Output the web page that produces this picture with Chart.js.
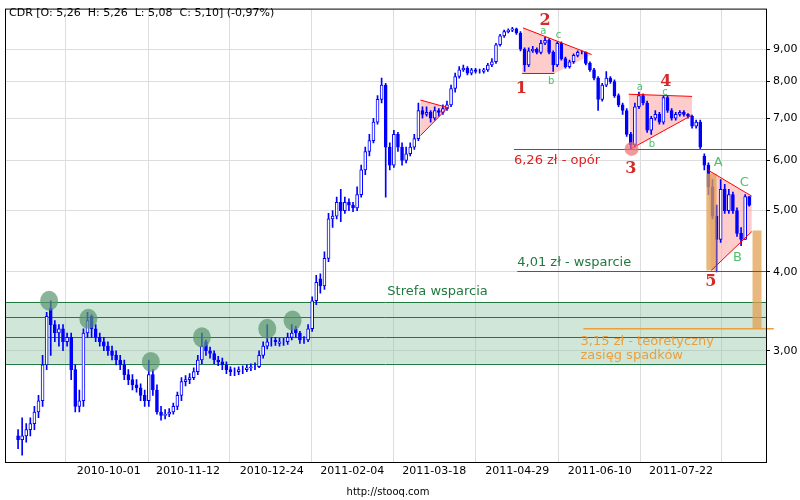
<!DOCTYPE html>
<html><head><meta charset="utf-8">
<script src="https://cdn.jsdelivr.net/npm/chart.js@4"></script>
<style>html,body{margin:0;padding:0;background:#fff}#w{width:800px;height:500px}</style>
</head><body><div id="w"><canvas id="c" width="800" height="500"></canvas></div>
<script>
const title = "CDR [O: 5,26  H: 5,26  L: 5,08  C: 5,10] (-0,97%)";
const opens = [2.2,2.17,2.2,2.25,2.3,2.4,2.5,2.85,3.5,3.3, 3.2,3.25,3.1,3.15,2.8,2.45,2.5,3.2,3.4,3.25, 3.15,3.1,3.05,3.0,2.95,2.9,2.85,2.75,2.7,2.65, 2.62,2.55,2.5,2.75,2.6,2.4,2.37,2.38,2.4,2.45, 2.55,2.68,2.7,2.72,2.78,2.9,3.1,3.0,2.97,2.9, 2.88,2.85,2.8,2.78,2.78,2.8,2.8,2.82,2.83,2.83, 2.95,3.05,3.1,3.12,3.08,3.1,3.1,3.15,3.25,3.2, 3.12,3.12,3.25,3.6,3.9,3.8,4.2,4.85,4.9,5.15, 5.0,5.15,5.1,5.05,5.3,5.8,6.2,6.45,6.9,7.5, 7.9,6.3,5.9,6.6,6.3,6.0,6.15,6.3,6.5,7.2, 7.1,7.15,7.0,7.2,7.15,7.25,7.35,7.8,8.15,8.35, 8.4,8.25,8.35,8.3,8.3,8.35,8.5,8.6,9.15,9.45, 9.6,9.65,9.7,9.55,9.0,8.5,8.95,9.0,8.9,9.2, 9.3,8.9,8.5,9.2,8.7,8.45,8.6,8.8,8.9,8.9, 8.55,8.35,8.1,7.5,7.9,8.1,8.0,7.6,7.35,7.2, 6.6,6.35,7.3,7.6,7.4,6.7,7.0,7.1,6.9,7.55, 7.2,7.0,7.1,7.15,7.1,7.05,6.8,6.9,6.1,5.9, 5.45,4.9,4.5,5.4,5.0,5.3,5.0,4.6,4.5,5.26];
const highs = [2.25,2.35,2.3,2.35,2.45,2.55,2.95,3.45,3.6,3.35, 3.3,3.3,3.2,3.2,2.85,2.6,3.25,3.45,3.42,3.3, 3.2,3.15,3.1,3.05,3.0,2.95,2.9,2.8,2.75,2.7, 2.66,2.6,2.9,2.8,2.65,2.45,2.42,2.43,2.48,2.58, 2.72,2.74,2.76,2.82,2.95,3.2,3.12,3.04,3.0,2.94, 2.92,2.88,2.83,2.82,2.83,2.84,2.85,2.86,2.87,3.0, 3.1,3.3,3.15,3.15,3.14,3.14,3.2,3.3,3.28,3.22, 3.16,3.3,3.65,3.95,3.97,4.3,4.95,5.0,5.25,5.4, 5.25,5.22,5.15,5.45,5.9,6.3,6.6,7.0,7.6,8.1, 7.95,6.4,6.7,6.65,6.4,6.3,6.4,6.6,7.4,7.3, 7.3,7.2,7.3,7.25,7.35,7.45,7.9,8.25,8.45,8.5, 8.45,8.4,8.4,8.37,8.4,8.55,8.7,9.2,9.5,9.65, 9.7,9.75,9.72,9.6,9.05,9.05,9.1,9.05,9.3,9.4, 9.35,8.95,9.25,9.25,8.75,8.65,8.85,8.95,8.95,8.92, 8.6,8.4,8.15,7.95,8.3,8.15,8.05,7.65,7.4,7.25, 6.65,7.4,7.7,7.65,7.45,7.05,7.2,7.15,7.6,7.6, 7.25,7.15,7.2,7.2,7.12,7.08,6.95,6.95,6.15,5.95, 5.6,5.1,5.6,5.5,5.4,5.35,5.05,4.7,5.3,5.26];
const lows = [2.1,2.05,2.15,2.2,2.25,2.35,2.45,2.8,2.95,3.1, 3.05,3.0,3.05,2.7,2.4,2.4,2.45,3.15,3.15,3.1, 3.05,3.0,2.95,2.9,2.85,2.8,2.7,2.65,2.6,2.58, 2.5,2.45,2.45,2.55,2.38,2.33,2.34,2.36,2.38,2.42, 2.5,2.64,2.66,2.7,2.75,2.86,2.95,2.92,2.86,2.84, 2.8,2.76,2.74,2.74,2.75,2.76,2.78,2.79,2.8,2.82, 2.92,3.02,3.05,3.06,3.05,3.06,3.07,3.12,3.15,3.08, 3.08,3.1,3.22,3.55,3.7,3.75,4.15,4.7,4.85,4.8, 4.95,5.0,4.98,5.0,5.25,5.7,6.1,6.4,6.85,7.4, 5.25,5.8,5.85,6.2,5.9,5.95,6.1,6.25,6.45,7.0, 7.05,6.9,6.95,7.05,7.1,7.2,7.3,7.7,8.1,8.3, 8.2,8.2,8.25,8.25,8.25,8.3,8.45,8.55,9.1,9.4, 9.55,9.6,9.5,8.95,8.3,8.45,8.9,8.85,8.85,9.15, 8.85,8.3,8.45,8.65,8.4,8.4,8.55,8.75,8.85,8.5, 8.3,8.05,7.2,7.45,7.85,7.95,7.55,7.3,7.1,6.55, 6.25,6.3,7.25,7.35,6.65,6.6,6.95,6.85,6.85,7.15, 6.95,6.95,7.05,7.05,7.0,6.75,6.75,6.25,5.8,5.3, 4.85,4.0,4.45,4.95,4.95,4.95,4.55,4.4,4.5,5.08];
const closes = [2.17,2.2,2.25,2.3,2.4,2.5,2.85,3.4,3.3,3.2, 3.25,3.1,3.15,2.8,2.45,2.5,3.2,3.35,3.25,3.15, 3.1,3.05,3.0,2.95,2.9,2.85,2.75,2.7,2.65,2.62, 2.55,2.5,2.75,2.6,2.4,2.37,2.38,2.4,2.45,2.55, 2.68,2.7,2.72,2.78,2.9,3.05,3.0,2.97,2.9,2.88, 2.85,2.8,2.78,2.78,2.8,2.8,2.82,2.83,2.83,2.95, 3.05,3.1,3.1,3.1,3.1,3.1,3.15,3.2,3.2,3.12, 3.12,3.25,3.6,3.85,3.8,4.2,4.85,4.9,5.15,5.0, 5.15,5.1,5.05,5.3,5.8,6.2,6.45,6.9,7.5,7.9, 6.3,5.9,6.6,6.3,6.0,6.15,6.3,6.5,7.2,7.1, 7.15,7.0,7.2,7.15,7.25,7.35,7.8,8.15,8.35,8.4, 8.25,8.35,8.3,8.3,8.35,8.5,8.6,9.15,9.45,9.6, 9.65,9.7,9.55,9.0,8.5,8.95,9.0,8.9,9.2,9.3, 8.9,8.5,9.2,8.7,8.45,8.6,8.8,8.9,8.9,8.55, 8.35,8.1,7.5,7.9,8.1,8.0,7.6,7.35,7.2,6.6, 6.35,7.3,7.6,7.4,6.7,7.0,7.1,6.9,7.55,7.2, 7.0,7.1,7.15,7.1,7.05,6.8,6.9,6.3,5.9,5.45, 4.9,4.5,5.4,5.0,5.3,5.0,4.6,4.5,5.26,5.1];
const dateTickPos = [1.2,22.2,41.6,62.1,81.8,101.9,122.2,142.4,162.3];
const dateTickLabels = ["","2010-10-01","2010-11-12","2010-12-24","2011-02-04","2011-03-18","2011-04-29","2011-06-10","2011-07-22"];
const priceTicks = [3,4,5,6,7,8,9];

const BLUE = '#0000ff';
const wick = closes.map((c,i)=>({x:i,y:[lows[i],highs[i]]}));
const body = closes.map((c,i)=>({x:i,y:[opens[i],c]}));
const bodyFill = closes.map((c,i)=> c>=opens[i] ? '#ffffff' : BLUE);

const band = {lo:2.86, hi:3.58, lines:[2.86,3.15,3.39,3.58]};
const tris = [
  [[98.5,7.48],[105.4,7.27],[98.5,6.57]],
  [[123.6,9.73],[140.4,8.83],[131.3,8.24],[123.4,8.24]],
  [[149.5,7.64],[165,7.58],[165,7.08],[150,6.26]],
  [[169,5.79],[179.6,5.27],[179.6,4.63],[169.7,4.02]]
];
const triLines = [
  [[98.5,7.48],[105.4,7.27]],[[98.5,6.57],[105.4,7.3]],
  [[123.6,9.73],[140.4,8.83]],[[123.4,8.24],[131.3,8.24]],
  [[149.5,7.64],[165,7.58]],[[150,6.26],[165,7.08]],
  [[169,5.79],[179.6,5.27]],[[169.7,4.02],[179.6,4.63]]
];
const greenCircles = [[7.6,3.6],[17.2,3.37],[32.5,2.88],[45,3.15],[61,3.25],[67.2,3.35]];
const redCircle = [150.2,6.26];
const bigNums = [["1",123.2,7.8],["2",129,10.0],["3",150,5.83],["4",158.6,8.0],["5",169.6,3.85]];
const letters = [["a",128.6,9.6],["c",132.3,9.47],["b",130.5,8.0],["a",152.2,7.83],["c",158.4,7.68],["b",155.2,6.37]];
const bigLetters = [["A",171.4,5.96],["C",177.8,5.54],["B",176.1,4.21]];

const annot = {
  id:'annot',
  beforeDatasetsDraw(ch){
    const {ctx,chartArea:a,scales:{x,y}} = ch;
    const X=v=>x.getPixelForValue(v), Y=v=>y.getPixelForValue(v);
    ctx.save();
    ctx.beginPath();ctx.rect(a.left,a.top,a.right-a.left,a.bottom-a.top);ctx.clip();
    ctx.fillStyle='rgba(140,195,165,0.42)';
    ctx.fillRect(a.left,Y(band.hi),a.right-a.left,Y(band.lo)-Y(band.hi));
    ctx.strokeStyle='#207a40';ctx.lineWidth=1;
    band.lines.forEach(v=>{ctx.beginPath();ctx.moveTo(a.left,Math.round(Y(v))+.5);ctx.lineTo(a.right,Math.round(Y(v))+.5);ctx.stroke();});
    ctx.fillStyle='rgba(255,170,170,0.6)';
    tris.forEach(t=>{ctx.beginPath();t.forEach((p,k)=>k?ctx.lineTo(X(p[0]),Y(p[1])):ctx.moveTo(X(p[0]),Y(p[1])));ctx.closePath();ctx.fill();});
    ctx.restore();
  },
  afterDatasetsDraw(ch){
    const {ctx,chartArea:a,scales:{x,y}} = ch;
    const X=v=>x.getPixelForValue(v), Y=v=>y.getPixelForValue(v);
    ctx.save();
    ctx.fillStyle='rgba(225,160,80,0.75)';
    ctx.fillRect(X(168.5),Y(5.72),X(171)-X(168.5),Y(4.02)-Y(5.72));
    ctx.fillRect(X(179.8),Y(4.65),X(182)-X(179.8),Y(3.25)-Y(4.65));
    ctx.strokeStyle='#e8a040';ctx.lineWidth=1.5;
    ctx.beginPath();ctx.moveTo(X(138.4),Y(3.25));ctx.lineTo(X(185),Y(3.25));ctx.stroke();
    ctx.lineWidth=1;
    ctx.strokeStyle='#e02020';
    ctx.beginPath();ctx.moveTo(X(121.4),Math.round(Y(6.26))+.5);ctx.lineTo(a.right,Math.round(Y(6.26))+.5);ctx.stroke();
    ctx.strokeStyle='#207a40';
    ctx.beginPath();ctx.moveTo(X(122.2),Math.round(Y(4.01))+.5);ctx.lineTo(a.right,Math.round(Y(4.01))+.5);ctx.stroke();
    ctx.strokeStyle='#ff0000';
    triLines.forEach(l=>{ctx.beginPath();ctx.moveTo(X(l[0][0]),Y(l[0][1]));ctx.lineTo(X(l[1][0]),Y(l[1][1]));ctx.stroke();});
    ctx.fillStyle='rgba(90,150,110,0.7)';
    greenCircles.forEach(c=>{ctx.beginPath();ctx.ellipse(X(c[0]),Y(c[1]),9,10,0,0,Math.PI*2);ctx.fill();});
    ctx.fillStyle='rgba(240,110,110,0.7)';
    ctx.beginPath();ctx.arc(X(redCircle[0]),Y(redCircle[1]),7,0,Math.PI*2);ctx.fill();
    ctx.textAlign='center';ctx.textBaseline='middle';
    ctx.fillStyle='#d42a2a';ctx.font='bold 16px "DejaVu Serif"';
    bigNums.forEach(t=>ctx.fillText(t[0],X(t[1]),Y(t[2])));
    ctx.fillStyle='#50c070';ctx.font='10px "DejaVu Sans"';
    letters.forEach(t=>ctx.fillText(t[0],X(t[1]),Y(t[2])));
    ctx.font='13px "DejaVu Sans"';
    bigLetters.forEach(t=>ctx.fillText(t[0],X(t[1]),Y(t[2])));
    ctx.textAlign='left';ctx.font='13px "DejaVu Sans"';
    ctx.fillStyle='#e02020';ctx.fillText('6,26 zł - opór',X(121.4),Y(6.0));
    ctx.fillStyle='#207a40';ctx.fillText('4,01 zł - wsparcie',X(122.2),Y(4.13));
    ctx.textAlign='center';ctx.fillText('Strefa wsparcia',X(102.7),Y(3.72));
    ctx.textAlign='left';ctx.fillStyle='#e8a040';
    ctx.fillText('3,15 zł - teoretyczny',X(137.7),Y(3.1));
    ctx.fillText('zasięg spadków',X(137.7),Y(2.95));
    ctx.strokeStyle='#000';ctx.lineWidth=1;
    ctx.strokeRect(a.left+.5,a.top-.5,a.right-a.left,a.bottom-a.top+1);
    ctx.fillStyle='#000';ctx.font='11px "DejaVu Sans"';ctx.textAlign='left';
    ctx.fillText(title,a.left+4,13);
    ctx.textAlign='center';ctx.font='10px "DejaVu Sans"';
    ctx.fillText('http://stooq.com',388,492);
    ctx.restore();
  }
};

new Chart(document.getElementById('c'),{
  type:'bar',
  data:{datasets:[
    {data:wick,backgroundColor:BLUE,barThickness:1,grouped:false,order:2},
    {data:body,backgroundColor:bodyFill,borderColor:BLUE,borderWidth:1,borderSkipped:false,barThickness:3,grouped:false,order:1}
  ]},
  options:{
    responsive:false,animation:false,
    layout:{padding:{left:5,top:5,right:0,bottom:0}},
    plugins:{legend:{display:false},tooltip:{enabled:false}},
    scales:{
      x:{type:'linear',min:-3.2,max:183.1,offset:false,
        afterBuildTicks:s=>{s.ticks=dateTickPos.map(v=>({value:v}));},
        afterFit:s=>{s.height=38;},
        ticks:{autoSkip:false,maxRotation:0,color:'#000',font:{family:'DejaVu Sans',size:11},padding:3,
          callback:(v,i)=>dateTickLabels[i]},
        grid:{color:'#dddddd',drawTicks:false},border:{display:false}},
      y:{type:'logarithmic',position:'right',min:2.0,max:10.4,
        afterBuildTicks:s=>{s.ticks=priceTicks.map(v=>({value:v}));},
        afterFit:s=>{s.width=34;},
        ticks:{color:'#000',font:{family:'DejaVu Sans',size:11},padding:3,
          callback:v=>Number(v).toFixed(2).replace('.',',')},
        grid:{color:'#dddddd',drawTicks:true,tickLength:4,tickColor:'#000'},border:{display:false}}
    }
  },
  plugins:[annot]
});
</script></body></html>
